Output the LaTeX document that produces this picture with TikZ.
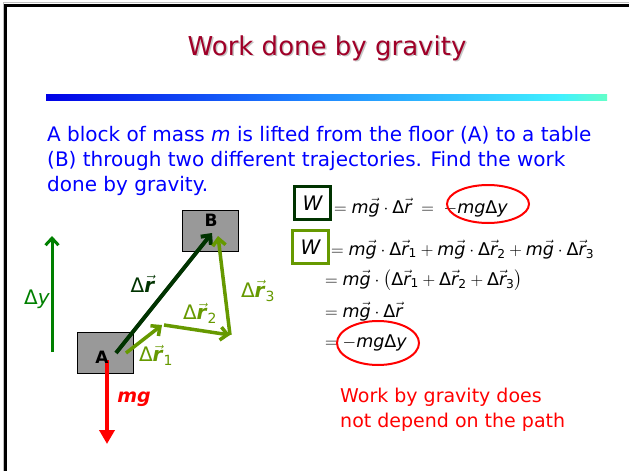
\RequirePackage{fix-cm}
\documentclass[tikz,border=0pt]{standalone}
\usepackage{fontspec}
\setmainfont{DejaVu Sans}
\usepackage{amsmath}
\usetikzlibrary{arrows.meta,calc}

\definecolor{titlered}{RGB}{160,0,40}
\definecolor{darkgreen}{RGB}{0,51,0}
\definecolor{olivegreen}{RGB}{102,153,0}
\definecolor{dygreen}{RGB}{0,128,0}
\definecolor{barblue}{RGB}{0,0,230}
\definecolor{barmid}{RGB}{30,130,255}
\definecolor{barcyan}{RGB}{64,240,255}
\definecolor{baraqua}{RGB}{100,255,200}

% letters of the formulas in the sans text font
\newcommand{\tv}[1]{\textit{#1}}
\newcommand{\vv}[1]{\vec{\textit{#1}}}
\newcommand{\bvv}[1]{\vec{\textbf{\textit{#1}}}}
\newcommand{\Dl}{\text{Δ}}
\newcommand{\ix}[1]{_{\text{#1}}}

\tikzset{
  block/.style={draw=black,fill=gray!80,minimum width=56pt,minimum height=41pt,inner sep=0pt},
  blocklabel/.style={font=\fontsize{17}{17}\selectfont\bfseries},
  barb/.style={-{Straight Barb[length=7pt,width=13pt]}},
  pathvec/.style={barb,line width=3.5pt,olivegreen},
  veclabel/.style={font=\fontsize{20}{20}\selectfont,inner sep=0pt},
  wbox/.style={draw,line width=3pt,minimum width=36pt,minimum height=33pt,inner sep=0pt},
  wlabel/.style={font=\fontsize{20}{20}\selectfont\itshape},
  ring/.style={red,line width=2pt},
  eqn/.style={anchor=base west,inner sep=0pt,font=\fontsize{17.5}{17.5}\selectfont},
}

\begin{document}
\begin{tikzpicture}[x=1pt,y=-1pt]
  \useasboundingbox (0,0) rectangle (629,471);
  \fill[white] (0,0) rectangle (629,471);
  % frame of the slide
  \draw[gray!50,line width=1pt] (3,471) -- (3,2.5) -- (629,2.5);
  \draw[line width=3pt] (5.5,471) -- (5.5,5.5) -- (629,5.5);

  % title
  \node[text=gray!45,font=\fontsize{26}{26}\selectfont] at (328.5,49.5) {Work done by gravity};
  \node[text=titlered,font=\fontsize{26}{26}\selectfont] (title) at (327,48) {Work done by gravity};
  \shade[left color=barblue,right color=barcyan,middle color=barmid] (46,94) rectangle (560,100);
  \shade[left color=barcyan,right color=baraqua] (560,94) rectangle (607,100);

  % problem text
  \node[anchor=north west,inner sep=0pt,align=left,text=blue,
        font=\fontsize{20}{25}\selectfont] (problem) at (47,126)
    {A block of mass \textit{m} is lifted from the floor (A) to a table\\
     (B) through two different trajectories. Find the work\\
     done by gravity.};

  % blocks
  \node[block] (A) at (105,352.5) {};
  \node[block] (B) at (210,231) {};

  % displacement points
  \coordinate (r0) at (116,353);
  \coordinate (rB) at (212,233);
  \coordinate (p0) at (126,353);
  \coordinate (p1) at (162,325);
  \coordinate (p2) at (230,335);
  \coordinate (p3) at (218,236);

  \draw[barb,line width=4pt,darkgreen] (r0) -- (rB);
  \draw[pathvec] (p0) -- (p1);
  \draw[pathvec] ($(p1)+(2,0)$) -- (p2);
  \draw[pathvec] (p2) -- (p3);
  \node[veclabel,darkgreen] at (143,284) {$\Dl\bvv{r}$};
  \node[veclabel,olivegreen] at (156,355) {$\Dl\bvv{r}\ix{1}$};
  \node[veclabel,olivegreen] at (200,313) {$\Dl\bvv{r}\ix{2}$};
  \node[veclabel,olivegreen] at (258,291) {$\Dl\bvv{r}\ix{3}$};

  % height change
  \coordinate (y0) at (52,352);
  \coordinate (y1) at (52,236);
  \draw[barb,line width=3pt,dygreen] (y0) -- (y1);
  \node[veclabel,dygreen] at (37,299) {$\Dl\tv{y}$};

  % weight
  \coordinate (g0) at (107,360);
  \coordinate (g1) at (107,444);
  \draw[-{Triangle[length=14pt,width=15pt]},line width=4pt,red] (g0) -- (g1);
  \node[red,font=\fontsize{19}{19}\selectfont\itshape\bfseries] at (134,399) {mg};

  \node[blocklabel] at (102,357) {A};
  \node[blocklabel] at (211,220) {B};

  % work along the straight path
  \node[wbox,darkgreen] (W1) at (312.5,202.5) {};
  \node[wlabel] at (312.5,203) {W};
  \node[eqn] (eq1) at (334,213) {$=\tv{m}\vv{g}\cdot\Dl\vv{r}\;=\;-\tv{mg}\Dl\tv{y}$};
  \draw[ring] (488,204) ellipse [x radius=41pt,y radius=19pt];

  % work along the broken path
  \node[wbox,olivegreen] (W2) at (310.5,247) {};
  \node[wlabel] at (310.5,247) {W};
  \node[eqn] (eq2) at (331,255) {$=\tv{m}\vv{g}\cdot\Dl\vv{r}\ix{1}+\tv{m}\vv{g}\cdot\Dl\vv{r}\ix{2}+\tv{m}\vv{g}\cdot\Dl\vv{r}\ix{3}$};
  \node[eqn] (eq3) at (325,285) {$=\tv{m}\vv{g}\cdot\bigl(\Dl\vv{r}\ix{1}+\Dl\vv{r}\ix{2}+\Dl\vv{r}\ix{3}\bigr)$};
  \node[eqn] (eq4) at (325,317) {$=\tv{m}\vv{g}\cdot\Dl\vv{r}$};
  \node[eqn] (eq5) at (325,347) {$=-\tv{mg}\Dl\tv{y}$};
  \draw[ring] (378,343) ellipse [x radius=41pt,y radius=22pt];

  % conclusion
  \node[anchor=north west,inner sep=0pt,align=left,text=red,
        font=\fontsize{19}{25}\selectfont] (note) at (340,388)
    {Work by gravity does\\not depend on the path};
\end{tikzpicture}
\end{document}
